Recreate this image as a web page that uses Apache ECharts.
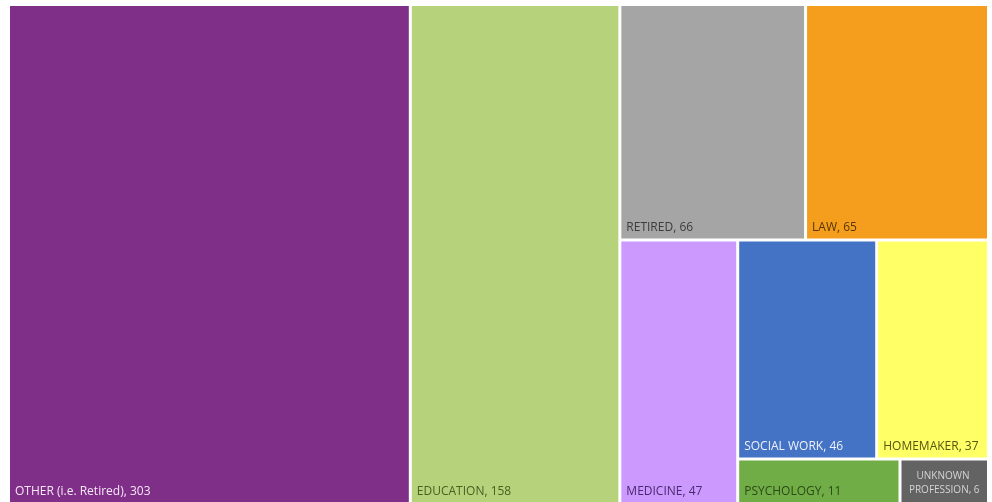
<!DOCTYPE html>
<html>
<head>
<meta charset="utf-8">
<script src="https://cdn.jsdelivr.net/npm/echarts@6/dist/echarts.min.js"></script>
<style>
  html, body { margin: 0; padding: 0; background: #fff; }
  #chart { width: 992px; height: 502px; }
</style>
</head>
<body>
<div id="chart"></div>
<script>
// 职业分布
var names = ['OTHER (i.e. Retired)', 'EDUCATION', 'RETIRED', 'LAW', 'MEDICINE',
  'SOCIAL WORK', 'HOMEMAKER', 'PSYCHOLOGY', 'UNKNOWN PROFESSION']
var values = [303, 158, 66, 65, 47, 46, 37, 11, 6]
var colors = ['#7f2f87', '#b6d37c', '#a5a5a5', '#f59e1d', '#cc99ff',
  '#4472c4', '#ffff66', '#70ad47', '#636363']
var labelColors = ['#f6e8f6', '#4a5f22', '#3c3c3c', '#553500', '#4a2a6e',
  '#eef2fa', '#55550f', '#2b4a16', '#d4d4d4']
// grouping by index, so the squarify lays it out like the original
var groups = [0, 1, [2, 3, [4, [5, 6, 7, 8]]]]

function buildNode(g) {
  if (Array.isArray(g)) {
    return {
      name: '',
      children: g.map(buildNode),
      itemStyle: { borderWidth: 0, gapWidth: 0 },
    }
  }
  var leaf = {
    name: names[g],
    value: values[g],
    itemStyle: { color: colors[g], borderWidth: 1.5, borderColor: '#fff' },
    label: { color: labelColors[g] },
  }
  // the narrow cell wraps its label on two centred lines
  if (names[g] === 'UNKNOWN PROFESSION') {
    leaf.label.position = 'insideBottom'
    leaf.label.align = 'center'
    leaf.label.overflow = 'break'
    leaf.label.fontSize = 10
    leaf.label.lineHeight = 14
    leaf.label.padding = [4, 1, 5, 1]
  }
  return leaf
}

var chart = echarts.init(document.getElementById('chart'))
var option = {
  animation: false,
  series: [
    {
      type: 'treemap',
      left: 8.5,
      top: 4.5,
      right: 3.5,
      bottom: -2,
      roam: false,
      nodeClick: false,
      sort: false,
      squareRatio: 1,
      breadcrumb: { show: false },
      emphasis: { disabled: true },
      itemStyle: { borderWidth: 0, gapWidth: 0 },
      upperLabel: { show: false },
      label: {
        show: true,
        position: 'insideBottomLeft',
        padding: [5, 5, 5, 5],
        fontFamily: 'Open Sans',
        fontSize: 12,
        formatter: '{b}, {c}',
      },
      data: groups.map(buildNode),
    },
  ],
}
chart.setOption(option)

window.addEventListener('resize', function () {
  chart.resize()
})
</script>
</body>
</html>
